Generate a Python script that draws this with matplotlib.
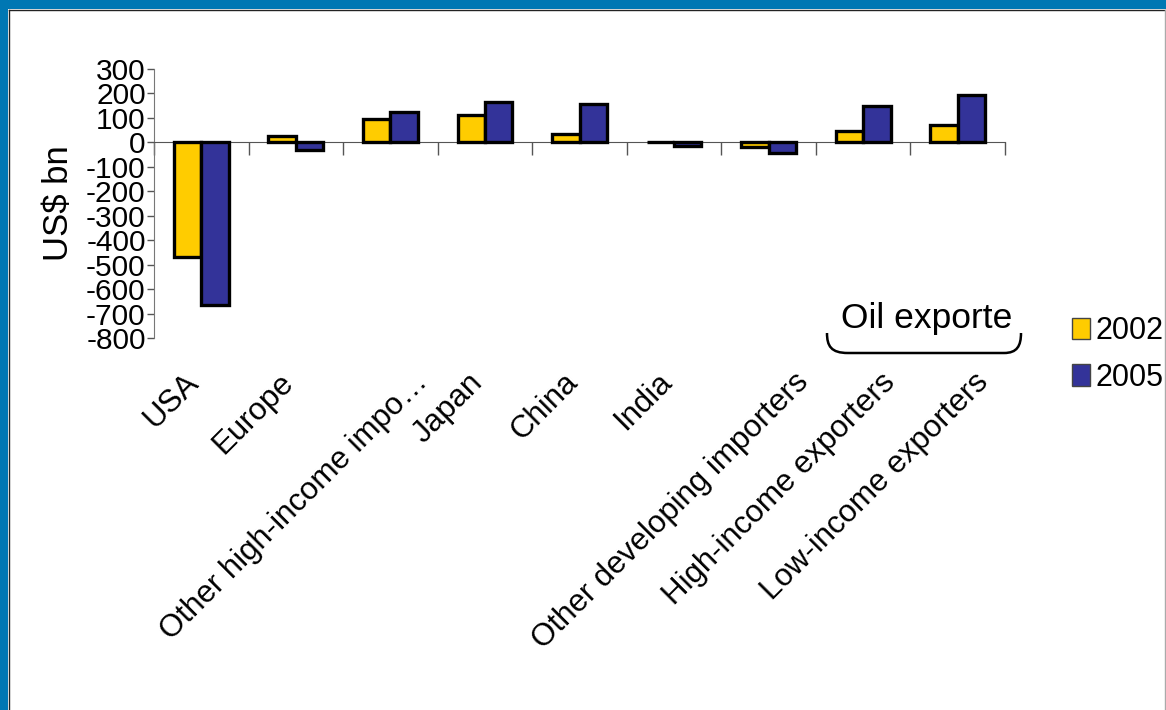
import numpy as np
import matplotlib.pyplot as plt
from matplotlib.patches import Rectangle, PathPatch
from matplotlib.path import Path
from matplotlib.lines import Line2D

plt.rcParams['font.family'] = ['Liberation Sans', 'DejaVu Sans']

regions = ['USA', 'Europe', 'Other high-income impo\u2026', 'Japan', 'China', 'India',
           'Other developing importers', 'High-income exporters', 'Low-income exporters']
bal_2002 = [-470, 28, 95, 112, 34, 3, -17, 48, 72]
bal_2005 = [-665, -33, 126, 165, 157, -15, -42, 148, 192]
yticks = [300, 200, 100, 0, -100, -200, -300, -400, -500, -600, -700, -800]

# long labels sit a little right of their tick (in category units)
label_shift = [0, 0, 0.42, 0, 0, 0, 0.45, 0.36, 0.35]

yellow = '#FFCC00'
navy = '#333399'

W, H = 1166, 710
fig = plt.figure(figsize=(W / 100, H / 100), dpi=100)
fig.patch.set_facecolor('white')

# blue slide frame along top and left
fig.add_artist(Rectangle((0, 1 - 9 / H), 1, 9 / H, transform=fig.transFigure,
                         color='#0077B3', lw=0))
fig.add_artist(Rectangle((0, 0), 8 / W, 1, transform=fig.transFigure,
                         color='#0077B3', lw=0))
fig.add_artist(Line2D([8.5 / W, 1], [1 - 9.5 / H] * 2, transform=fig.transFigure,
                      color='#222222', lw=1))
fig.add_artist(Line2D([8.5 / W] * 2, [0, 1 - 9.5 / H], transform=fig.transFigure,
                      color='#222222', lw=1))
fig.add_artist(Line2D([1164.5 / W] * 2, [0, 1 - 9.5 / H], transform=fig.transFigure,
                      color='#aaaaaa', lw=1))

ax = fig.add_axes([154 / W, 1 - 338 / H, (1005 - 154) / W, (338 - 69) / H])
x = np.arange(len(regions))
bw = 0.29
ax.bar(x - bw / 2, bal_2002, bw, color=yellow, edgecolor='black', lw=2.4, label='2002', zorder=3)
ax.bar(x + bw / 2, bal_2005, bw, color=navy, edgecolor='black', lw=2.4, label='2005', zorder=3)

ax.set_xlim(-0.5, len(regions) - 0.5)
ax.set_ylim(-800, 300)
ax.set_yticks(yticks)
ax.set_yticklabels([str(v) for v in yticks], fontsize=21.5)
ax.tick_params(axis='y', direction='out', length=5, width=1, color='#555555', pad=1)

for s in ['top', 'right']:
    ax.spines[s].set_visible(False)
ax.spines['left'].set_color('#777777')
ax.spines['bottom'].set_position(('data', 0))
ax.spines['bottom'].set_color('#555555')
ax.set_xticks(np.arange(len(regions) + 1) - 0.5)
ax.set_xticklabels([])
ax.tick_params(axis='x', direction='out', length=9, width=1, color='#555555')

ax.set_ylabel('US$ bn', fontsize=25)
ax.yaxis.set_label_coords(-0.093, 0.5)

# category labels at 45 degrees below the plot
for i, name in enumerate(regions):
    ax.text(i - 0.07 + label_shift[i], -0.148, name, transform=ax.get_xaxis_transform(),
            rotation=45, rotation_mode='anchor', ha='right', va='center', fontsize=22.5)

# bracket over the oil exporter groups
fig.text(841 / W, 1 - 328 / H, 'Oil exporte', fontsize=25.5, ha='left', va='baseline')
bx = [827, 827, 831, 848, 1004, 1017, 1021, 1021]
by = [333, 346, 353, 353, 353, 353, 346, 333]
verts = [(a / W, 1 - b / H) for a, b in zip(bx, by)]
codes = [Path.MOVETO, Path.CURVE4, Path.CURVE4, Path.CURVE4,
         Path.LINETO, Path.CURVE4, Path.CURVE4, Path.CURVE4]
fig.add_artist(PathPatch(Path(verts, codes), transform=fig.transFigure,
                         fill=False, lw=1.8, ec='black'))

leg = fig.legend(loc='upper left', bbox_to_anchor=(1072 / W, 1 - 316 / H),
                 frameon=False, fontsize=22, handlelength=0.58, handleheight=0.7,
                 handletextpad=0.2, labelspacing=0.55, borderpad=0, borderaxespad=0)
for h in leg.legend_handles:
    h.set_linewidth(1)
    h.set_edgecolor('#444444')

fig.savefig('out.png', dpi=100)
